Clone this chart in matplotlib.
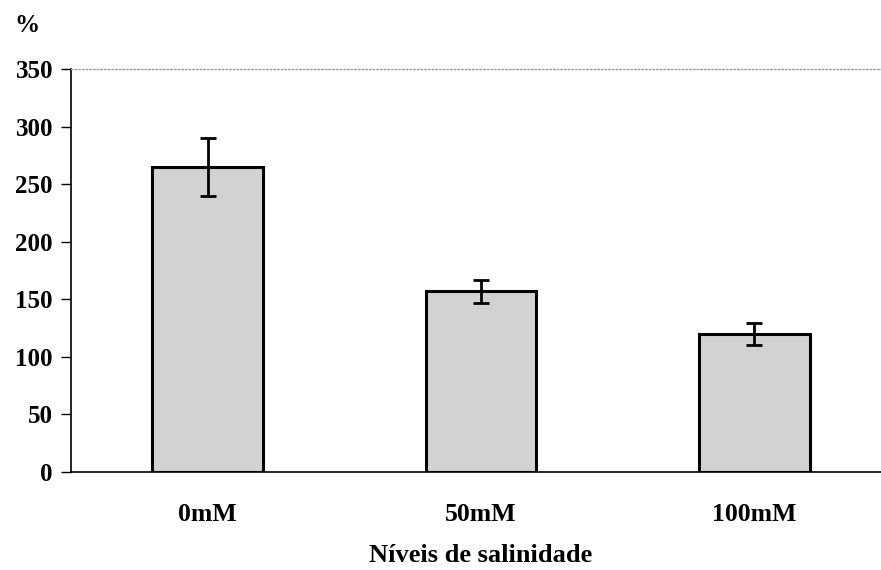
import matplotlib
matplotlib.use("Agg")
import matplotlib.pyplot as plt

# salinity levels and response (%), with error bars
categories = ['0mM', '50mM', '100mM']
values = [265, 157, 120]
errors = [25, 10, 9.5]
y_ticks = [0, 50, 100, 150, 200, 250, 300, 350]

plt.rcParams['font.family'] = 'Liberation Serif'
plt.rcParams['font.weight'] = 'bold'

W, H = 881, 570
fig = plt.figure(figsize=(W / 100, H / 100), dpi=100)
ax = fig.add_axes([71 / W, (H - 472) / H, (W - 71) / W, (472 - 69) / H])

x = range(len(categories))
ax.bar(x, values, width=0.405, color='#d2d2d2', edgecolor='black', linewidth=2.2,
       zorder=2)
ax.errorbar(x, values, yerr=errors, fmt='none', ecolor='black', elinewidth=2,
            capsize=6, capthick=2, zorder=3)

ax.set_xlim(-0.5, 2.464)
ax.set_ylim(0, 350)
ax.set_yticks(y_ticks)
ax.set_yticklabels([str(t) for t in y_ticks], fontsize=18, fontweight='bold')
ax.set_xticks(list(x))
ax.set_xticklabels(categories, fontsize=18.5, fontweight='bold')

ax.tick_params(axis='y', direction='out', length=7, width=1, pad=6)
ax.tick_params(axis='x', length=0, pad=22)

ax.spines['right'].set_visible(False)
ax.spines['top'].set_color('#9a9a9a')
ax.spines['top'].set_linestyle(':')
ax.spines['top'].set_linewidth(1)
ax.spines['left'].set_linewidth(1.2)
ax.spines['bottom'].set_linewidth(1.2)

fig.text(27 / W, 1 - 25 / H, '%', fontsize=18, fontweight='bold', ha='center',
         va='center')
fig.text(481 / W, 1 - 556 / H, 'Níveis de salinidade', fontsize=19,
         fontweight='bold', ha='center', va='center')

fig.savefig('out.png', dpi=100)
